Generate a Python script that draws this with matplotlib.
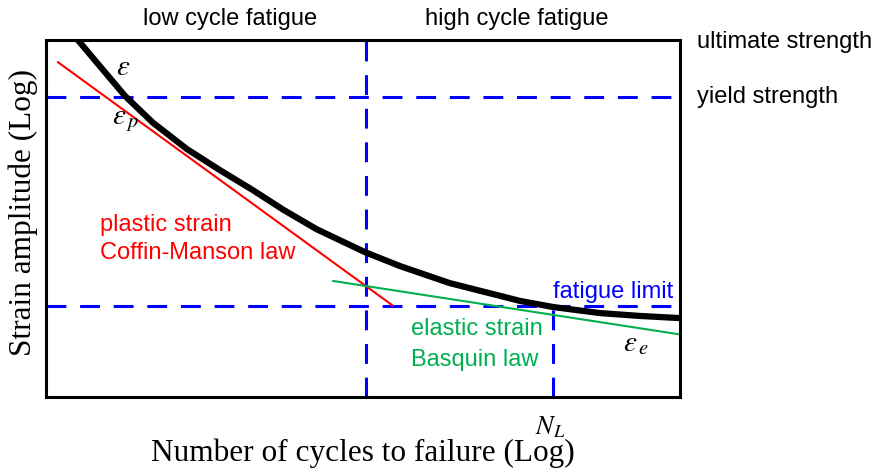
import matplotlib
matplotlib.use("Agg")
import matplotlib.pyplot as plt

plt.rcParams['font.family'] = ['Liberation Sans', 'DejaVu Sans']
plt.rcParams['mathtext.fontset'] = 'stix'

# total strain curve (log-log units scaled 0..10)
total_x = [0.49, 0.85, 1.25, 1.69, 1.96, 2.22, 2.74, 3.26, 3.74, 4.27, 5.03,
           5.58, 6.37, 7.48, 8.00, 8.74, 9.37, 10.0]
total_y = [10.03, 9.27, 8.43, 7.68, 7.31, 6.95, 6.36, 5.80, 5.25, 4.70, 4.06,
           3.67, 3.19, 2.69, 2.52, 2.35, 2.27, 2.21]

# plastic strain (Coffin-Manson) and elastic strain (Basquin)
plastic_x = [0.19, 5.47]
plastic_y = [9.38, 2.56]
elastic_x = [4.53, 9.97]
elastic_y = [3.25, 1.76]

yield_level = 8.40
fatigue_level = 2.56
transition_n = 5.05
n_limit = 8.0

fig = plt.figure(figsize=(8.74, 4.72), dpi=100)
ax = fig.add_axes([0.0526, 0.159, 0.7254, 0.756])
ax.set_xlim(0, 10)
ax.set_ylim(0, 10)
ax.set_xticks([])
ax.set_yticks([])
for s in ax.spines.values():
    s.set_linewidth(2.2)

blue = '#0000FF'
green = '#00B050'
dash = (6.5, 4.5)

ax.axhline(yield_level, color=blue, lw=2.2, dashes=dash)
ax.axhline(fatigue_level, color=blue, lw=2.2, dashes=dash)
ax.axvline(transition_n, color=blue, lw=2.2, dashes=dash)
ax.plot([n_limit, n_limit], [0, fatigue_level], color=blue, lw=2.2, dashes=dash)

ax.plot(plastic_x, plastic_y, color='red', lw=1.5)
ax.plot(elastic_x, elastic_y, color=green, lw=1.5)
ax.plot(total_x, total_y, color='black', lw=4.5, solid_capstyle='butt', solid_joinstyle='round')

# annotations
fs = 17
ax.text(2.90, 10.59, 'low cycle fatigue', fontsize=fs, ha='center', va='center', clip_on=False)
ax.text(7.43, 10.59, 'high cycle fatigue', fontsize=fs, ha='center', va='center', clip_on=False)
ax.text(10.27, 9.94, 'ultimate strength', fontsize=fs, ha='left', va='center', clip_on=False)
ax.text(10.27, yield_level, 'yield strength', fontsize=fs, ha='left', va='center', clip_on=False)
ax.text(8.0, 2.94, 'fatigue limit', fontsize=fs, color=blue, ha='left', va='center')
ax.text(0.85, 4.82, 'plastic strain', fontsize=fs, color='red', ha='left', va='center')
ax.text(0.85, 4.03, 'Coffin-Manson law', fontsize=fs, color='red', ha='left', va='center')
ax.text(5.76, 1.90, 'elastic strain', fontsize=fs, color=green, ha='left', va='center')
ax.text(5.76, 1.04, 'Basquin law', fontsize=fs, color=green, ha='left', va='center')

ax.text(1.22, 9.25, r'$\varepsilon$', fontsize=21, ha='center', va='center')
ax.text(1.25, 7.75, r'$\varepsilon_{\,p}$', fontsize=21, ha='center', va='center')
ax.text(9.3, 1.50, r'$\varepsilon_{\,e}$', fontsize=21, ha='center', va='center')
ax.text(n_limit - 0.05, -0.85, r'$N_L$', fontsize=19, ha='center', va='center', clip_on=False)

ax.set_xlabel('Number of cycles to failure (Log)', family='Liberation Serif', fontsize=22.5, labelpad=30)
ax.set_ylabel('Strain amplitude (Log)', family='Liberation Serif', fontsize=22.5, labelpad=4)
ax.yaxis.set_label_coords(-0.013, 0.518)
ax.yaxis.label.set_va('bottom')

fig.savefig('out.png', dpi=100)
